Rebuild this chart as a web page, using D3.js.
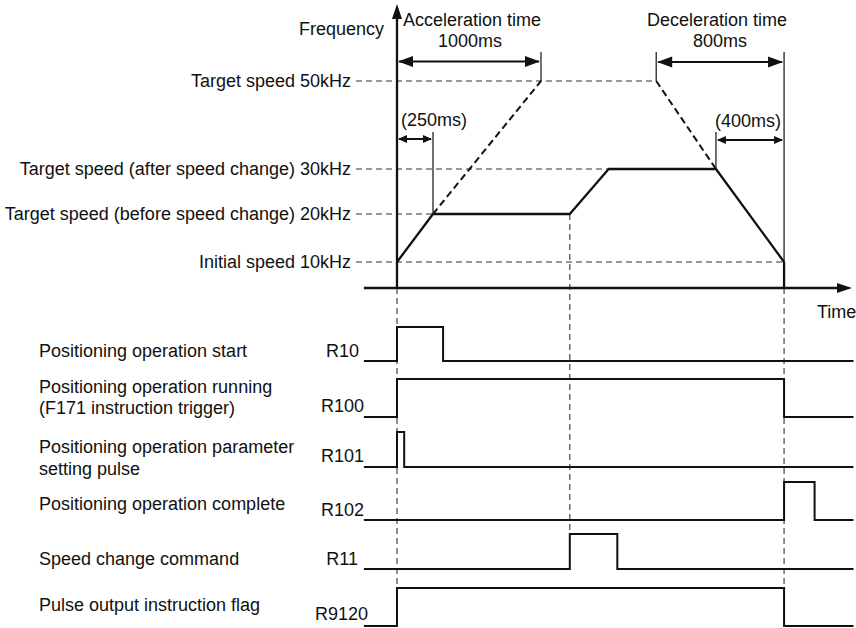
<!DOCTYPE html>
<html><head><meta charset="utf-8">
<script src="https://cdn.jsdelivr.net/npm/d3@7/dist/d3.min.js"></script>
<style>body{margin:0;background:#fff}svg{display:block}text{font-family:"Liberation Sans",Arial,sans-serif;font-size:18px;fill:#111}</style>
</head><body><svg id="c" width="856" height="628"></svg>
<script>
// ---- data ----
const speedLevels = [50, 30, 20, 10];               // kHz
const speedNames = ["Target speed", "Target speed (after speed change)", "Target speed (before speed change)", "Initial speed"];
const speedUnits = ["50kHz", "30kHz", "20kHz", "10kHz"];
const guideEnds = [1800, 1470, 250, 2688];          // ms where each dashed level guide stops
const profileT = [0, 250, 1200, 1470, 2215, 2688];  // ms
const profileF = [10, 20, 20, 30, 30, 10];          // kHz
const accelDashT = [250, 1000], accelDashF = [20, 50];
const decelDashT = [1800, 2215], decelDashF = [50, 30];
const signalNames = ["R10", "R100", "R101", "R102", "R11", "R9120"];
const signalDesc = [["Positioning operation start"], ["Positioning operation running", "(F171 instruction trigger)"], ["Positioning operation parameter", "setting pulse"], ["Positioning operation complete"], ["Speed change command"], ["Pulse output instruction flag"]];
const signalEdges = [[0, 320], [0, 2688], [0, 50], [2688, 2900], [1200, 1530], [0, 2688]]; // ms high interval
const tStart = -230, tEnd = 3170;

// ---- layout ----
const svg = d3.select("#c");
const x = d3.scaleLinear().domain([0, 1000]).range([397, 541]);
const y = d3.scaleLinear().domain([0, 10, 20, 30, 50]).range([288, 262, 214, 169, 81]);
const ink = "#111";

function arrowHead(g, xt, yt, dir, len, hw) {
  let pts;
  if (dir === 'r') pts = [[xt, yt], [xt - len, yt - hw], [xt - len, yt + hw]];
  else if (dir === 'l') pts = [[xt, yt], [xt + len, yt - hw], [xt + len, yt + hw]];
  else pts = [[xt, yt], [xt - hw, yt + len], [xt + hw, yt + len]];
  g.append("path").attr("d", d3.line()(pts) + "Z").attr("fill", ink);
}

const g = svg.append("g");

// level guides and labels
speedLevels.forEach((v, i) => {
  g.append("line").attr("x1", 356).attr("x2", x(guideEnds[i])).attr("y1", y(v)).attr("y2", y(v))
    .attr("stroke", "#333").attr("stroke-width", 1.2).attr("stroke-dasharray", "6,4");
  g.append("text").attr("x", 351).attr("y", y(v) + 6).attr("text-anchor", "end")
    .text(speedNames[i] + " " + speedUnits[i]);
});

// vertical dashed guides
[[0, 288, 628], [1200, y(20), 534], [2688, 288, 628]].forEach(d => {
  g.append("line").attr("x1", x(d[0])).attr("x2", x(d[0])).attr("y1", d[1]).attr("y2", d[2])
    .attr("stroke", "#444").attr("stroke-width", 1.2).attr("stroke-dasharray", "6,4");
});

// dashed nominal ramps
const lineXY = d3.line().x(d => x(d[0])).y(d => y(d[1]));
g.append("path").attr("d", lineXY(accelDashT.map((t, i) => [t, accelDashF[i]])))
  .attr("fill", "none").attr("stroke", ink).attr("stroke-width", 2).attr("stroke-dasharray", "7,4");
g.append("path").attr("d", lineXY(decelDashT.map((t, i) => [t, decelDashF[i]])))
  .attr("fill", "none").attr("stroke", ink).attr("stroke-width", 2).attr("stroke-dasharray", "7,4");

// dimension ticks (thin)
const thin = (x1, y1, x2, y2) => g.append("line").attr("x1", x1).attr("y1", y1).attr("x2", x2).attr("y2", y2).attr("stroke", ink).attr("stroke-width", 1.2);
thin(x(1000), 52, x(1000), y(50));
thin(x(1800), 52, x(1800), y(50));
thin(x(2688), 52, x(2688), y(10));
thin(x(250), 132, x(250), y(20));
thin(x(2215), 132, x(2215), y(30));

// dimension arrows
function dim(t1, t2, yy, len, hw) {
  g.append("line").attr("x1", x(t1) + 2).attr("x2", x(t2) - 2).attr("y1", yy).attr("y2", yy).attr("stroke", ink).attr("stroke-width", 2);
  arrowHead(g, x(t1) + 1, yy, 'l', len, hw);
  arrowHead(g, x(t2) - 1, yy, 'r', len, hw);
}
dim(0, 1000, 61.5, 15, 5.5);
dim(1800, 2688, 62, 15, 5.5);
dim(0, 250, 139, 9, 4);
dim(2215, 2688, 140, 9, 4);

g.append("text").attr("x", 472).attr("y", 26).attr("text-anchor", "middle").text("Acceleration time");
g.append("text").attr("x", 470).attr("y", 47).attr("text-anchor", "middle").text("1000ms");
g.append("text").attr("x", 717).attr("y", 26).attr("text-anchor", "middle").text("Deceleration time");
g.append("text").attr("x", 720).attr("y", 47).attr("text-anchor", "middle").text("800ms");
g.append("text").attr("x", 434).attr("y", 126).attr("text-anchor", "middle").text("(250ms)");
g.append("text").attr("x", 748).attr("y", 127).attr("text-anchor", "middle").text("(400ms)");

// frequency profile
g.append("path").attr("d", lineXY(profileT.map((t, i) => [t, profileF[i]])))
  .attr("fill", "none").attr("stroke", ink).attr("stroke-width", 2.3).attr("stroke-linejoin", "round");
g.append("line").attr("x1", x(2688)).attr("x2", x(2688)).attr("y1", y(10)).attr("y2", y(0)).attr("stroke", ink).attr("stroke-width", 2.3);

// axes
g.append("line").attr("x1", x(0)).attr("x2", x(0)).attr("y1", y(0) + 1).attr("y2", 16).attr("stroke", ink).attr("stroke-width", 2.3);
arrowHead(g, x(0), 4, 'u', 15, 5);
g.append("line").attr("x1", x(tStart)).attr("x2", 840).attr("y1", y(0)).attr("y2", y(0)).attr("stroke", ink).attr("stroke-width", 2.3);
arrowHead(g, 852, y(0), 'r', 15, 5);
g.append("text").attr("x", 384).attr("y", 35).attr("text-anchor", "end").text("Frequency");
g.append("text").attr("x", 817).attr("y", 318).text("Time");

// timing signals
const lowY = [361, 417, 467, 520, 569, 626];
const highY = [327, 379, 432, 482, 534, 588];
const nameEnd = [359, 364, 364, 364, 358, 368];
const nameBase = [357, 412, 462, 516, 565, 620];
const descBase = [[357], [393, 414], [453, 475], [510], [565], [611]];
const step = d3.line().x(d => x(d[0])).y(d => d[1]).curve(d3.curveStepAfter);
signalNames.forEach((n, i) => {
  const e = signalEdges[i];
  const pts = [[tStart, lowY[i]], [e[0], highY[i]], [e[1], lowY[i]], [tEnd, lowY[i]]];
  g.append("path").attr("d", step(pts)).attr("fill", "none").attr("stroke", ink).attr("stroke-width", 2);
  g.append("text").attr("x", nameEnd[i]).attr("y", nameBase[i]).attr("text-anchor", "end").text(n);
  signalDesc[i].forEach((s, k) => {
    g.append("text").attr("x", 39).attr("y", descBase[i][k]).text(s);
  });
});
</script></body></html>
